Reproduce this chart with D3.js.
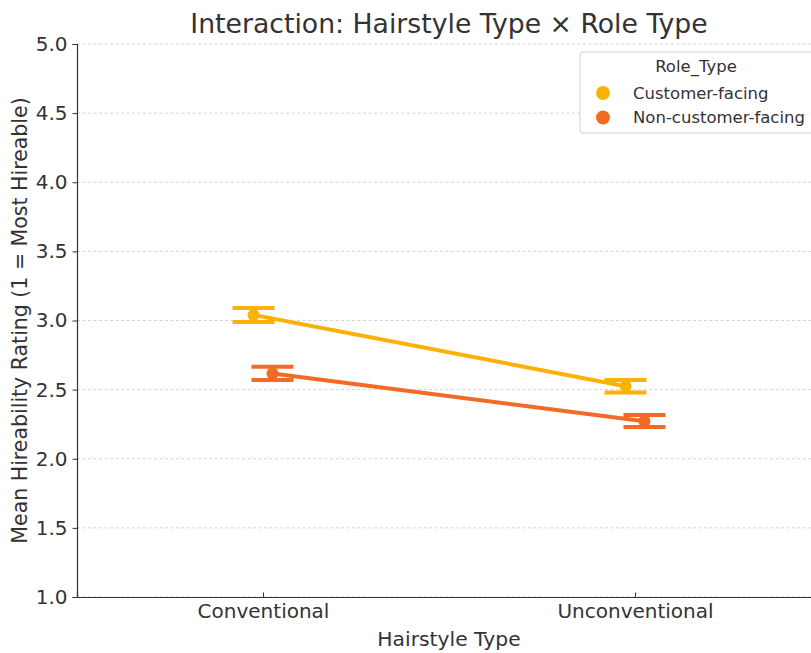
<!DOCTYPE html>
<html><head><meta charset="utf-8">
<script src="https://cdn.jsdelivr.net/npm/d3@7"></script>
<style>body{margin:0;background:#fff;} svg{display:block;font-family:"DejaVu Sans",sans-serif;}</style>
</head><body>
<svg id="c" width="811" height="653"></svg>
<script>
const categories = ["Conventional", "Unconventional"];
const roles = ["Customer-facing", "Non-customer-facing"];
const meanCustomer = [3.04, 2.525];
const lowCustomer = [2.99, 2.48];
const highCustomer = [3.09, 2.57];
const meanNonCustomer = [2.617, 2.272];
const lowNonCustomer = [2.57, 2.23];
const highNonCustomer = [2.665, 2.316];
const yTicks = [1.0, 1.5, 2.0, 2.5, 3.0, 3.5, 4.0, 4.5, 5.0];
const colors = ["#FDB006", "#F26B24"];

const series = [
  {name: roles[0], mean: meanCustomer, lo: lowCustomer, hi: highCustomer, color: colors[0], dodge: -0.0255},
  {name: roles[1], mean: meanNonCustomer, lo: lowNonCustomer, hi: highNonCustomer, color: colors[1], dodge: 0.0255}
];

const svg = d3.select("#c");
const L = 77, R = 821, T = 44, B = 597;
const x = d3.scaleLinear().domain([-0.5, 1.5]).range([L, R]);
const y = d3.scaleLinear().domain([1, 5]).range([B, T]);
const txt = "#333";

// grid
svg.append("g").selectAll("line").data(yTicks).join("line")
  .attr("x1", L).attr("x2", R).attr("y1", d => y(d)).attr("y2", d => y(d))
  .attr("stroke", "#c8c8c8").attr("stroke-width", 0.8).attr("stroke-dasharray", "3,2.5");

// y axis
const ya = svg.append("g").attr("transform", `translate(${L},0)`)
  .call(d3.axisLeft(y).tickValues(yTicks).tickFormat(d3.format(".1f")).tickSizeOuter(0).tickSize(4.5).tickPadding(5));
ya.select(".domain").attr("stroke", txt).attr("stroke-width", 1.2);
ya.selectAll(".tick line").attr("stroke", txt).attr("stroke-width", 1);
ya.selectAll(".tick text").attr("fill", txt).attr("font-size", 20).attr("font-family", "DejaVu Sans");

// x axis
const xa = svg.append("g").attr("transform", `translate(0,${B})`)
  .call(d3.axisBottom(x).tickValues([0, 1]).tickFormat(i => categories[i]).tickSizeOuter(0).tickSize(-4.5).tickPadding(7));
xa.select(".domain").attr("stroke", txt).attr("stroke-width", 1.2);
xa.selectAll(".tick line").attr("stroke", txt).attr("stroke-width", 1);
xa.selectAll(".tick text").attr("fill", txt).attr("font-size", 20).attr("font-family", "DejaVu Sans");

// series
const line = d3.line().x(d => x(d.i + d.dodge)).y(d => y(d.v));
series.forEach(s => {
  const pts = s.mean.map((v, i) => ({i, v, dodge: s.dodge, lo: s.lo[i], hi: s.hi[i]}));
  const g = svg.append("g");
  g.append("path").datum(pts).attr("d", line).attr("fill", "none")
    .attr("stroke", s.color).attr("stroke-width", 4);
  g.selectAll("circle").data(pts).join("circle")
    .attr("cx", d => x(d.i + d.dodge)).attr("cy", d => y(d.v)).attr("r", 6).attr("fill", s.color);
  const eb = g.selectAll("g.eb").data(pts).join("g");
  eb.append("line").attr("x1", d => x(d.i + d.dodge)).attr("x2", d => x(d.i + d.dodge))
    .attr("y1", d => y(d.lo)).attr("y2", d => y(d.hi)).attr("stroke", s.color).attr("stroke-width", 4);
  ["lo", "hi"].forEach(k => {
    eb.append("line").attr("x1", d => x(d.i + d.dodge) - 21).attr("x2", d => x(d.i + d.dodge) + 21)
      .attr("y1", d => y(d[k])).attr("y2", d => y(d[k])).attr("stroke", s.color).attr("stroke-width", 4);
  });
});

// title & labels
svg.append("text").attr("x", 449).attr("y", 33).attr("text-anchor", "middle")
  .attr("font-size", 26.7).attr("fill", txt).text("Interaction: Hairstyle Type × Role Type");
svg.append("text").attr("x", 449).attr("y", 646).attr("text-anchor", "middle")
  .attr("font-size", 20.3).attr("fill", txt).text("Hairstyle Type");
svg.append("text").attr("transform", `translate(27,${(T + B) / 2}) rotate(-90)`).attr("text-anchor", "middle")
  .attr("font-size", 20.5).attr("fill", txt).text("Mean Hireability Rating (1 = Most Hireable)");

// legend
const lg = svg.append("g");
lg.append("rect").attr("x", 580).attr("y", 52).attr("width", 245).attr("height", 81).attr("rx", 3)
  .attr("fill", "#fff").attr("fill-opacity", 0.8).attr("stroke", "#d0d0d0");
lg.append("text").attr("x", 696).attr("y", 72).attr("text-anchor", "middle").attr("font-size", 16.5)
  .attr("fill", txt).text("Role_Type");
series.forEach((s, k) => {
  const yy = 93 + k * 24.5;
  lg.append("circle").attr("cx", 603).attr("cy", yy).attr("r", 7).attr("fill", s.color);
  lg.append("text").attr("x", 633).attr("y", yy + 5.5).attr("font-size", 16.5).attr("fill", txt).text(s.name);
});
</script>
</body></html>
